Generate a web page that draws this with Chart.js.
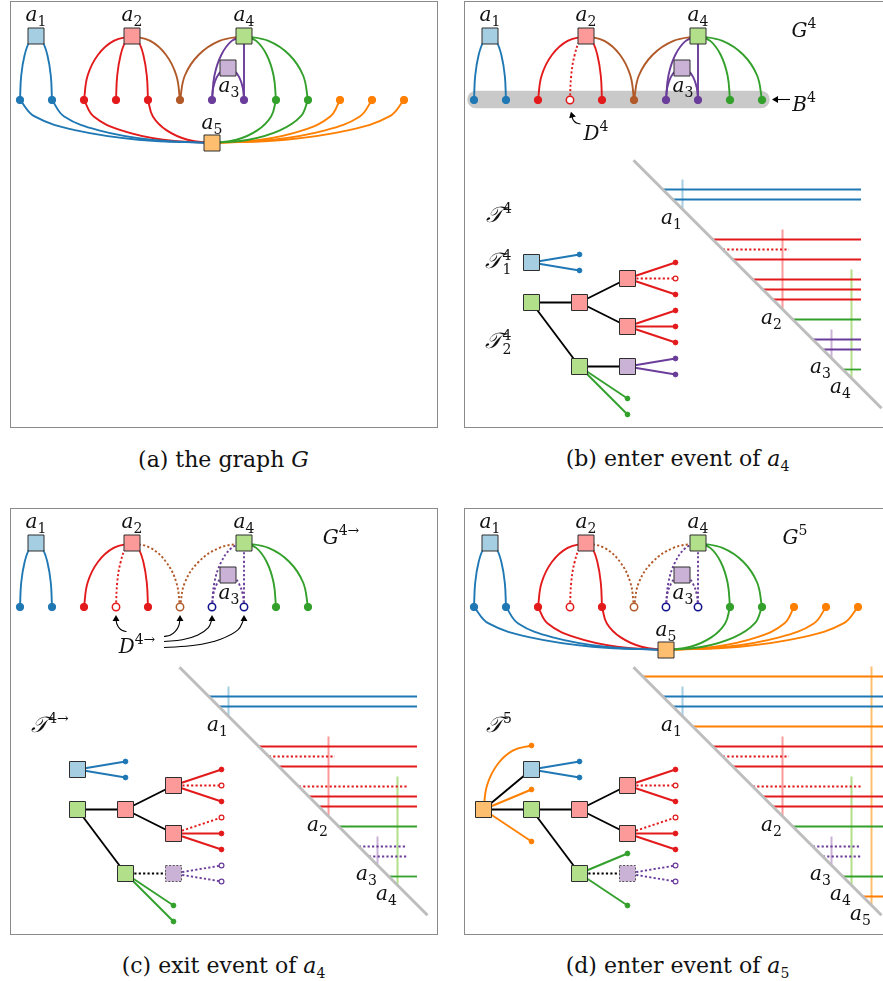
<!DOCTYPE html>
<html><head><meta charset="utf-8">
<script src="https://cdn.jsdelivr.net/npm/chart.js@4.4.1/dist/chart.umd.min.js"></script>
<style>
html,body{margin:0;padding:0;background:#fff;overflow:hidden;}
body{width:883px;height:981px;position:relative;}
.panel{position:absolute;width:440px;height:430px;}
.panel canvas{position:absolute;left:0;top:0;}
.frame{position:absolute;border:1.6px solid #8a8a8a;box-sizing:border-box;}
.lbl{position:absolute;font-family:"DejaVu Serif",serif;font-size:20px;line-height:1;white-space:nowrap;transform:translate(-50%,-50%);color:#111;}
.big{font-size:22px;}
.sb{font-size:14px;vertical-align:-5px;font-style:normal;}
.sp{font-size:14px;vertical-align:9px;font-style:normal;}
.ss{display:inline-block;font-size:14px;line-height:14px;vertical-align:-6px;text-align:left;margin-left:1px;font-style:normal;}
.cap{position:absolute;font-family:"DejaVu Serif",serif;font-size:22px;line-height:1;white-space:nowrap;transform:translate(-50%,-50%);color:#111;}
</style></head><body>
<script>
// ---------- colours ----------
const COLOR = {blue:'#1f78b4', red:'#e31a1c', green:'#33a02c', purple:'#6a3d9a', orange:'#ff7f00', brown:'#b15928', navy:'#10108a'};
const LIGHT = {blue:'#a6cee3', red:'#fb9a99', green:'#b2df8a', purple:'#cab2d6', orange:'#fdbf6f'};

// ---------- top graph ----------
const leafX = [10,42,74,106,138,170,202,234,266,298,330,362,394];
const leafY = 99;
const leafGroup = ['blue','blue','red','red','red','brown','purple','purple','green','green','orange','orange','orange'];
const leafOpenGroup = ['blue','blue','red','red','red','brown','navy','navy','green','green','orange','orange','orange'];
const agentName = ['1','2','3','4','5'];
const agentX = [26,122,218,234,202];
const agentY = [35,35,67,35,142];
const agentGroup = ['blue','red','purple','green','orange'];
const agentLabelDX = [0,0,1,0,0];
const agentLabelDY = [-20,-20,19,-20,-19];
const edgeAgent = [0,0,1,1,1,1,3,3,3,2,2,3,3,4,4,4,4,4,4,4,4,4];
const edgeLeaf  = [0,1,2,3,4,5,5,6,7,6,7,8,9,0,1,2,4,8,9,10,11,12];

// ---------- tree ----------
const treeNodeX = [67.5,67.5,115.5,163.5,163.5,115.5,163.5,19.5];
const treeNodeY = [261.5,301.5,301.5,277.5,325.5,365.5,365.5,301.5];
const treeNodeGroup = ['blue','green','red','red','red','green','purple','orange'];
const treeLinkFrom = [1,2,2,1,5,7,7];
const treeLinkTo   = [2,3,4,5,6,0,1];
const treeLeafParent = [0,0,3,3,3,4,4,4,6,6,5,5];
const treeLeafX = [115.5,115.5,211.5,211.5,211.5,211.5,211.5,211.5,211.5,211.5,163.5,163.5];
const treeLeafY = [253.5,269.5,261.5,277.5,293.5,309.5,325.5,341.5,357.5,373.5,397.5,413.5];
const treeLeafYd = [253.5,269.5,261.5,277.5,293.5,309.5,325.5,341.5,357.5,373.5,345.5,397.5];
const treeLeafGroup = ['blue','blue','red','red','red','red','red','red','purple','purple','green','green'];
const newLeafX = [67.5,67.5,67.5];
const newLeafY = [237.5,281.5,333.5];
const newLeafCurved = [true,false,false];

// ---------- staircase ----------
const rowY = [168.5,188.5,198.5,218.5,238.5,248.5,258.5,278.5,288.5,298.5,318.5,338.5,348.5,368.5,388.5];
const rowGroup = ['orange','blue','blue','orange','red','red','red','red','red','red','green','purple','purple','green','orange'];
const rowDottedEnd = [0,0,0,0,0,325,0,397,0,0,0,397,397,0,0];
const laneX = [218.5,318.5,367.5,387.5,407.5];
const laneTop = [178.5,228.5,328.5,268.5,158.5];
const diagX = [169.5,417.5];
const diagY = [159.2,407.2];
const bandX = [12,297];

const W = 440, H = 430, DOT = [2.2,2.2], LW = 1.9;

function P(x,y){return {x:x,y:y};}
function arcPts(L, A){ // vertical tangent at L, horizontal tangent at A
  const out=[];
  [0,0.25,0.5,0.75,1].forEach(t=>{const th=t*Math.PI/2;
    out.push(P(A.x+(L.x-A.x)*Math.cos(th), L.y+(A.y-L.y)*Math.sin(th)));});
  return out;
}
function xOnDiag(y){return diagX[0]+(y-diagY[0])*(diagX[1]-diagX[0])/(diagY[1]-diagY[0]);}
function yOnDiag(x){return diagY[0]+(x-diagX[0])*(diagY[1]-diagY[0])/(diagX[1]-diagX[0]);}
function lineDS(pts,color,width,dash,order,extra){
  return Object.assign({type:'scatter',data:pts,showLine:true,borderColor:color,backgroundColor:color,
    borderWidth:width,borderDash:dash||[],pointRadius:0,pointHoverRadius:0,tension:0.4,order:order,fill:false},extra||{});
}
function ptsDS(pts,style,r,bg,bc,bw,order){
  return {type:'scatter',data:pts,showLine:false,pointStyle:style,pointRadius:r,pointHoverRadius:r,
    pointBackgroundColor:bg,pointBorderColor:bc,pointBorderWidth:bw,pointHoverBorderWidth:bw,order:order};
}
function arrowDS(pts,rot){
  const r=pts.map((p,i)=>i===pts.length-1?4:0);
  return lineDS(pts,'#000',1.1,[],0,{pointRadius:r,pointHoverRadius:r,pointStyle:'triangle',pointRotation:rot,
    pointBackgroundColor:'#000',pointBorderColor:'#000',pointBorderWidth:0});
}
function mA(n){return '<i>a</i><span class="sb">'+n+'</span>';}

const SQ = 16/(2*Math.SQRT1_2);

function buildGraph(ds, labels, spec){
  edgeAgent.forEach((ai,ei)=>{
    const li=edgeLeaf[ei];
    if(spec.agents.indexOf(ai)<0 || li>=spec.leafCount) return;
    const dotted=spec.dottedEdges.indexOf(ei)>=0;
    ds.push(lineDS(arcPts(P(leafX[li],leafY),P(agentX[ai],agentY[ai])),COLOR[leafGroup[li]],LW,dotted?DOT:[],3));
  });
  const lp=[],bg=[],bc=[],bw=[];
  for(let i=0;i<spec.leafCount;i++){
    const open=spec.openLeaves.indexOf(i)>=0;
    lp.push(P(leafX[i],leafY));
    bg.push(open?'#ffffff':COLOR[leafGroup[i]]);
    bc.push(open?COLOR[leafOpenGroup[i]]:COLOR[leafGroup[i]]);
    bw.push(open?1.5:1);
  }
  ds.push(ptsDS(lp,'circle',3.7,bg,bc,bw,1));
  const ap=[],abg=[];
  spec.agents.forEach(ai=>{ap.push(P(agentX[ai],agentY[ai]));abg.push(LIGHT[agentGroup[ai]]);
    labels.push([mA(agentName[ai]),agentX[ai]+agentLabelDX[ai],agentY[ai]+agentLabelDY[ai],'lbl']);});
  ds.push(ptsDS(ap,'rect',SQ,abg,'#2e2e2e',1,0));
  if(spec.band) ds.push(lineDS([P(bandX[0],leafY-0.5),P(bandX[1],leafY-0.5)],'#c9c9c9',17.5,[],20,{borderCapStyle:'round',tension:0}));
}

function buildTree(ds, variant){
  const after = variant!=='b', withNew = variant==='d';
  const linkCount = withNew?7:5;
  const lys = withNew?treeLeafYd:treeLeafY;
  const openTree = after?[3,5,8,9]:[3];
  for(let k=0;k<linkCount;k++){
    const a=treeLinkFrom[k], b=treeLinkTo[k];
    const dotted = after && b===6;
    ds.push(lineDS([P(treeNodeX[a],treeNodeY[a]),P(treeNodeX[b],treeNodeY[b])],'#000',LW,dotted?DOT:[],3,{tension:0}));
  }
  const lp=[],bg=[],bc=[],bw=[];
  treeLeafParent.forEach((p,i)=>{
    const open=openTree.indexOf(i)>=0, c=COLOR[treeLeafGroup[i]];
    ds.push(lineDS([P(treeNodeX[p],treeNodeY[p]),P(treeLeafX[i],lys[i])],c,LW,open?DOT:[],3,{tension:0}));
    lp.push(P(treeLeafX[i],lys[i])); bg.push(open?'#fff':c); bc.push(c); bw.push(open?1.2:1);
  });
  if(withNew){
    newLeafX.forEach((x,i)=>{
      const N=P(treeNodeX[7],treeNodeY[7]), L=P(x,newLeafY[i]);
      ds.push(lineDS(newLeafCurved[i]?arcPts(N,L):[N,L],COLOR.orange,LW,[],3,{tension:newLeafCurved[i]?0.4:0}));
      lp.push(L); bg.push(COLOR.orange); bc.push(COLOR.orange); bw.push(1);
    });
  }
  ds.push(ptsDS(lp,'circle',2.4,bg,bc,bw,1));
  const n = withNew?8:7, np=[],nbg=[],nbw=[];
  for(let i=0;i<n;i++){np.push(P(treeNodeX[i],treeNodeY[i]));nbg.push(LIGHT[treeNodeGroup[i]]);nbw.push(after&&i===6?0:1);}
  ds.push(ptsDS(np,'rect',SQ,nbg,'#2e2e2e',nbw,0));
  if(after){
    const cx=treeNodeX[6], cy=treeNodeY[6];
    ds.push(lineDS([P(cx-8,cy-8),P(cx+8,cy-8),P(cx+8,cy+8),P(cx-8,cy+8),P(cx-8,cy-8)],'#555',1,[2,1.6],-1,{tension:0}));
  }
}

function buildStairs(ds, labels, spec){
  rowY.forEach((y,i)=>{
    if(spec.rows.indexOf(i)<0) return;
    const dotted = spec.dottedRows.indexOf(i)>=0;
    const end = dotted?rowDottedEnd[i]:spec.rowEnd;
    ds.push(lineDS([P(xOnDiag(y),y),P(end,y)],COLOR[rowGroup[i]],1.8,dotted?DOT:[],5,{tension:0}));
  });
  spec.lanes.forEach(k=>{
    const x=laneX[k];
    ds.push(lineDS([P(x,laneTop[k]),P(x,yOnDiag(x))],LIGHT[agentGroup[k]],2,[],6,{tension:0}));
    labels.push([mA(agentName[k]),x-11,yOnDiag(x)+10,'lbl']);
  });
  ds.push(lineDS([P(diagX[0],diagY[0]),P(diagX[1],diagY[1])],'#bdbdbd',3,[],4,{tension:0}));
}

const panelSpecs = [
  {ox:10, oy:1, agents:[0,1,2,3,4], leafCount:13, openLeaves:[], dottedEdges:[], band:false, tree:null},
  {ox:464, oy:1, agents:[0,1,2,3], leafCount:10, openLeaves:[3], dottedEdges:[3], band:true, tree:'b',
   rows:[1,2,4,5,6,7,8,9,10,11,12,13], dottedRows:[5], rowEnd:397, lanes:[0,1,2,3]},
  {ox:10, oy:508, agents:[0,1,2,3], leafCount:10, openLeaves:[3,5,6,7], dottedEdges:[3,5,6,7,8,9,10], band:false, tree:'c',
   rows:[1,2,4,5,6,7,8,9,10,11,12,13], dottedRows:[5,7,11,12], rowEnd:407, lanes:[0,1,2,3]},
  {ox:464, oy:508, agents:[0,1,2,3,4], leafCount:13, openLeaves:[3,5,6,7], dottedEdges:[3,5,6,7,8,9,10], band:false, tree:'d',
   rows:[0,1,2,3,4,5,6,7,8,9,10,11,12,13,14], dottedRows:[5,7,11,12], rowEnd:440, lanes:[0,1,2,3,4]}
];
const panelTexts = [
  [],
  [['<i>G</i><span class="sp">4</span>',340,27,'lbl'],['<i>B</i><span class="sp">4</span>',340,101,'lbl'],
   ['<i>D</i><span class="sp">4</span>',132,130,'lbl'],['<i>𝒯</i><span class="sp">4</span>',35,212,'lbl big'],
   ['<i>𝒯</i><span class="ss">4<br>1</span>',34,261,'lbl big'],['<i>𝒯</i><span class="ss">4<br>2</span>',34,341,'lbl big']],
  [['<i>G</i><span class="sp">4→</span>',331,27,'lbl'],['<i>D</i><span class="sp">4→</span>',127,136,'lbl'],
   ['<i>𝒯</i><span class="sp">4→</span>',40,215,'lbl big']],
  [['<i>G</i><span class="sp">5</span>',331,27,'lbl'],['<i>𝒯</i><span class="sp">5</span>',35,215,'lbl big']]
];
const arrowStart = [[],[[326,98.5],[116.5,123]],[[116.5,123.5],[154,128.5],[154,133.5],[154,139.5]],[]];
const arrowEnd   = [[],[[312,98.5],[108,114.5]],[[106,111],[170,111],[202,111],[234,111]],[]];
const arrowCurved= [[],[false,true],[true,true,true,true],[]];
const arrowRot   = [[],[270,-15],[0,0,0,0],[]];
const captions = ['(a) the graph <i>G</i>','(b) enter event of <i>a</i><span class="sb">4</span>',
  '(c) exit event of <i>a</i><span class="sb">4</span>','(d) enter event of <i>a</i><span class="sb">5</span>'];
const captionY = [460,460,967,967];

panelSpecs.forEach((spec,pi)=>{
  const fr=document.createElement('div'); fr.className='frame';
  fr.style.left=spec.ox+'px'; fr.style.top=spec.oy+'px'; fr.style.width='428px'; fr.style.height='427px';
  document.body.appendChild(fr);
});
panelSpecs.forEach((spec,pi)=>{
  const box=document.createElement('div'); box.className='panel';
  box.style.left=spec.ox+'px'; box.style.top=spec.oy+'px';
  document.body.appendChild(box);
  const ds=[], labels=[];
  buildGraph(ds,labels,spec);
  if(spec.tree){ buildTree(ds,spec.tree); buildStairs(ds,labels,spec); }
  arrowStart[pi].forEach((s,k)=>{
    const S=P(s[0],s[1]), E=P(arrowEnd[pi][k][0],arrowEnd[pi][k][1]);
    const pts = arrowCurved[pi][k]? arcPts(E,S).reverse() : [S,E];
    ds.push(arrowDS(pts,arrowRot[pi][k]));
  });
  panelTexts[pi].forEach(t=>labels.push(t));
  const cv=document.createElement('canvas'); cv.width=W; cv.height=H; cv.style.width=W+'px'; cv.style.height=H+'px';
  box.appendChild(cv);
  const chart=new Chart(cv.getContext('2d'),{type:'scatter',data:{datasets:ds},
    options:{responsive:false,animation:false,devicePixelRatio:1,events:[],layout:{padding:0,autoPadding:false},
      plugins:{legend:{display:false},tooltip:{enabled:false}},
      scales:{x:{type:'linear',min:0,max:W,display:false},y:{type:'linear',min:0,max:H,reverse:true,display:false}}}});
  labels.forEach(l=>{
    const el=document.createElement('div'); el.className=l[3]; el.innerHTML=l[0];
    el.style.left=chart.scales.x.getPixelForValue(l[1])+'px';
    el.style.top=chart.scales.y.getPixelForValue(l[2])+'px';
    box.appendChild(el);
  });
  const cap=document.createElement('div'); cap.className='cap'; cap.innerHTML=captions[pi];
  cap.style.left=(spec.ox+213.5)+'px'; cap.style.top=captionY[pi]+'px';
  document.body.appendChild(cap);
});
</script>
</body></html>
